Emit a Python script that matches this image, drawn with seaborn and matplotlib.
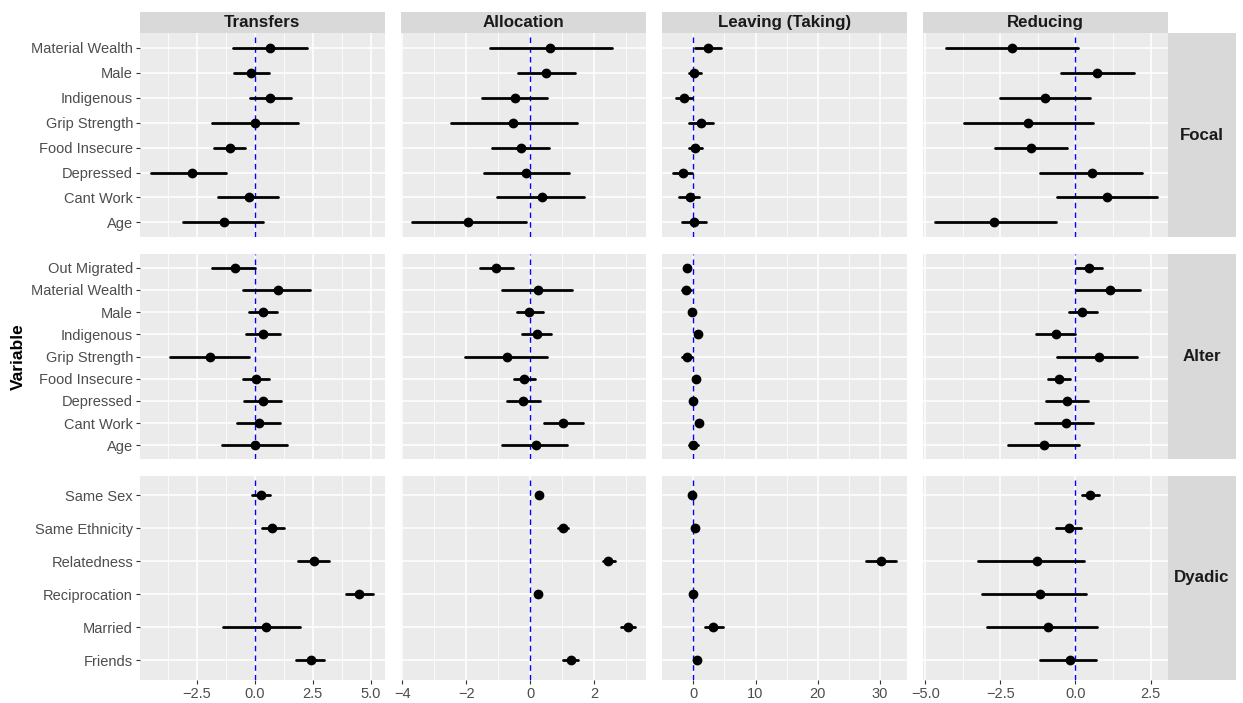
import numpy as np
import pandas as pd
import matplotlib.pyplot as plt
import seaborn as sns
from matplotlib.patches import Rectangle
from matplotlib.ticker import FixedLocator

# facets
outcomes = ["Transfers", "Allocation", "Leaving (Taking)", "Reducing"]
types = ["Focal", "Alter", "Dyadic"]

# variables, top to bottom
focal_vars = ["Material Wealth", "Male", "Indigenous", "Grip Strength",
              "Food Insecure", "Depressed", "Cant Work", "Age"]
alter_vars = ["Out Migrated", "Material Wealth", "Male", "Indigenous", "Grip Strength",
              "Food Insecure", "Depressed", "Cant Work", "Age"]
dyadic_vars = ["Same Sex", "Same Ethnicity", "Relatedness", "Reciprocation",
               "Married", "Friends"]

# (lower, estimate, upper) for each variable, same order as lists above
transfers_focal = [(-0.95, 0.68, 2.25), (-0.87, -0.14, 0.61), (-0.22, 0.66, 1.57),
                   (-1.82, 0.03, 1.88), (-1.77, -1.07, -0.40), (-4.46, -2.71, -1.23),
                   (-1.57, -0.25, 1.01), (-3.09, -1.33, 0.38)]
allocation_focal = [(-1.27, 0.63, 2.55), (-0.37, 0.49, 1.41), (-1.51, -0.46, 0.54),
                    (-2.49, -0.54, 1.47), (-1.18, -0.29, 0.58), (-1.45, -0.14, 1.23),
                    (-1.03, 0.37, 1.69), (-3.69, -1.96, -0.13)]
leaving_focal = [(0.32, 2.42, 4.46), (-0.75, 0.16, 1.18), (-2.69, -1.45, -0.22),
                 (-0.75, 1.24, 3.17), (-0.65, 0.32, 1.34), (-3.17, -1.61, -0.11),
                 (-2.20, -0.59, 0.91), (-1.77, 0.16, 2.04)]
reducing_focal = [(-4.30, -2.12, 0.10), (-0.49, 0.71, 1.94), (-2.52, -1.03, 0.48),
                  (-3.70, -1.57, 0.60), (-2.68, -1.47, -0.28), (-1.18, 0.56, 2.20),
                  (-0.62, 1.04, 2.71), (-4.69, -2.70, -0.66)]

transfers_alter = [(-1.82, -0.84, 0.0), (-0.51, 1.00, 2.40), (-0.26, 0.36, 0.95),
                   (-0.39, 0.38, 1.11), (-3.64, -1.93, -0.26), (-0.51, 0.07, 0.63),
                   (-0.45, 0.35, 1.14), (-0.76, 0.17, 1.10), (-1.41, 0.03, 1.41)]
allocation_alter = [(-1.57, -1.06, -0.54), (-0.89, 0.25, 1.32), (-0.41, -0.02, 0.39),
                    (-0.25, 0.21, 0.66), (-2.03, -0.72, 0.53), (-0.52, -0.18, 0.15),
                    (-0.72, -0.22, 0.32), (0.42, 1.02, 1.64), (-0.88, 0.17, 1.14)]
leaving_alter = [(-1.29, -1.02, -0.65), (-1.83, -1.08, -0.38), (-0.60, -0.27, 0.05),
                 (0.38, 0.70, 1.02), (-1.77, -0.97, -0.11), (0.11, 0.43, 0.75),
                 (-0.27, 0.05, 0.38), (0.54, 0.86, 1.18), (-0.65, 0.0, 0.70)]
reducing_alter = [(0.01, 0.46, 0.89), (0.01, 1.14, 2.15), (-0.22, 0.23, 0.70),
                  (-1.32, -0.65, 0.0), (-0.61, 0.78, 2.06), (-0.93, -0.56, -0.19),
                  (-0.99, -0.28, 0.43), (-1.36, -0.32, 0.60), (-2.25, -1.04, 0.13)]

transfers_dyadic = [(-0.13, 0.27, 0.66), (0.30, 0.76, 1.28), (1.88, 2.55, 3.22),
                    (3.95, 4.52, 5.12), (-1.36, 0.49, 1.96), (1.80, 2.41, 3.00)]
allocation_dyadic = [(0.19, 0.28, 0.38), (0.88, 1.03, 1.18), (2.27, 2.45, 2.65),
                     (0.17, 0.25, 0.34), (2.84, 3.05, 3.27), (1.02, 1.27, 1.51)]
leaving_dyadic = [(-0.43, -0.11, 0.21), (-0.05, 0.27, 0.59), (27.8, 30.1, 32.5),
                  (-0.37, -0.05, 0.27), (1.88, 3.17, 4.84), (0.22, 0.54, 0.86)]
reducing_dyadic = [(0.22, 0.49, 0.77), (-0.66, -0.23, 0.20), (-3.23, -1.28, 0.28),
                   (-3.12, -1.17, 0.36), (-2.94, -0.91, 0.71), (-1.19, -0.17, 0.67)]

# x ticks per column
major_ticks = [[-2.5, 0, 2.5, 5], [-4, -2, 0, 2], [0, 10, 20, 30], [-5, -2.5, 0, 2.5]]
minor_ticks = [[-3.75, -1.25, 1.25, 3.75], [-3, -1, 1, 3], [5, 15, 25], [-3.75, -1.25, 1.25]]
tick_labels = [["\u22122.5", "0.0", "2.5", "5.0"], ["\u22124", "\u22122", "0", "2"],
               ["0", "10", "20", "30"], ["\u22125.0", "\u22122.5", "0.0", "2.5"]]

panels = {
    ("Transfers", "Focal"): transfers_focal, ("Allocation", "Focal"): allocation_focal,
    ("Leaving (Taking)", "Focal"): leaving_focal, ("Reducing", "Focal"): reducing_focal,
    ("Transfers", "Alter"): transfers_alter, ("Allocation", "Alter"): allocation_alter,
    ("Leaving (Taking)", "Alter"): leaving_alter, ("Reducing", "Alter"): reducing_alter,
    ("Transfers", "Dyadic"): transfers_dyadic, ("Allocation", "Dyadic"): allocation_dyadic,
    ("Leaving (Taking)", "Dyadic"): leaving_dyadic, ("Reducing", "Dyadic"): reducing_dyadic,
}
var_lists = {"Focal": focal_vars, "Alter": alter_vars, "Dyadic": dyadic_vars}

rows = []
for (outcome, typ), vals in panels.items():
    for var, triple in zip(var_lists[typ], vals):
        for v in triple:
            rows.append({"outcome": outcome, "type": typ, "variable": var, "value": v})
df = pd.DataFrame(rows)

sns.set_theme(style="darkgrid", rc={"axes.facecolor": "#EBEBEB", "grid.color": "white"})
plt.rcParams["font.family"] = ["Liberation Sans", "DejaVu Sans"]

fig, axes = plt.subplots(3, 4, figsize=(12.43, 7.03), dpi=100, sharex="col", sharey="row")
fig.subplots_adjust(left=140 / 1243, right=1168 / 1243, top=1 - 33 / 703,
                    bottom=1 - 680 / 703, wspace=0.068, hspace=0.083)

for i, typ in enumerate(types):
    order = var_lists[typ]
    for j, outcome in enumerate(outcomes):
        ax = axes[i, j]
        sub = df[(df["type"] == typ) & (df["outcome"] == outcome)]
        sns.pointplot(data=sub, x="value", y="variable", order=order,
                      estimator=np.median, errorbar=lambda v: (v.min(), v.max()),
                      color="black", linestyle="none", markersize=5,
                      err_kws={"linewidth": 2.0}, ax=ax)
        ax.axvline(0, color="blue", ls=(0, (4, 3)), lw=1.0, zorder=1)
        ax.set_ylim(len(order) - 1 + 0.6, -0.6)
        ax.set_xlabel("")
        ax.set_ylabel("")
        ax.xaxis.set_major_locator(FixedLocator(major_ticks[j]))
        ax.xaxis.set_minor_locator(FixedLocator(minor_ticks[j]))
        ax.set_xticklabels(tick_labels[j])
        ax.set_axisbelow(True)
        ax.grid(True, which="major", color="white", lw=1.1)
        ax.grid(True, which="minor", axis="x", color="white", lw=0.55)
        for s in ax.spines.values():
            s.set_visible(False)
        ax.tick_params(axis="both", which="major", labelsize=10.5, labelcolor="#4D4D4D",
                       color="#333333", width=0.8, length=3, pad=2)
        ax.tick_params(axis="x", which="minor", length=0)
        if i < 2:
            ax.tick_params(axis="x", length=0)
        if j > 0:
            ax.tick_params(axis="y", length=0)
        ax.tick_params(axis="x", bottom=(i == 2))
        ax.tick_params(axis="y", left=(j == 0))

        if i == 0:
            ax.add_patch(Rectangle((0, 1), 1, 21 / 203, transform=ax.transAxes,
                                   facecolor="#D9D9D9", edgecolor="none", clip_on=False))
            ax.text(0.5, 1 + 10.5 / 203, outcome, transform=ax.transAxes, ha="center",
                    va="center", fontsize=12.2, fontweight="bold", color="#1A1A1A")
        if j == 3:
            ax.add_patch(Rectangle((1, 0), 68 / 245, 1, transform=ax.transAxes,
                                   facecolor="#D9D9D9", edgecolor="none", clip_on=False))
            ax.text(1 + 34 / 245, 0.5, typ, transform=ax.transAxes, ha="center",
                    va="center", fontsize=12.2, fontweight="bold", color="#1A1A1A")

fig.text(18 / 1243, 1 - 357 / 703, "Variable", rotation=90, ha="center", va="center",
         fontsize=12.5, fontweight="bold", color="black")

plt.savefig("out.png", dpi=100)
plt.close()
